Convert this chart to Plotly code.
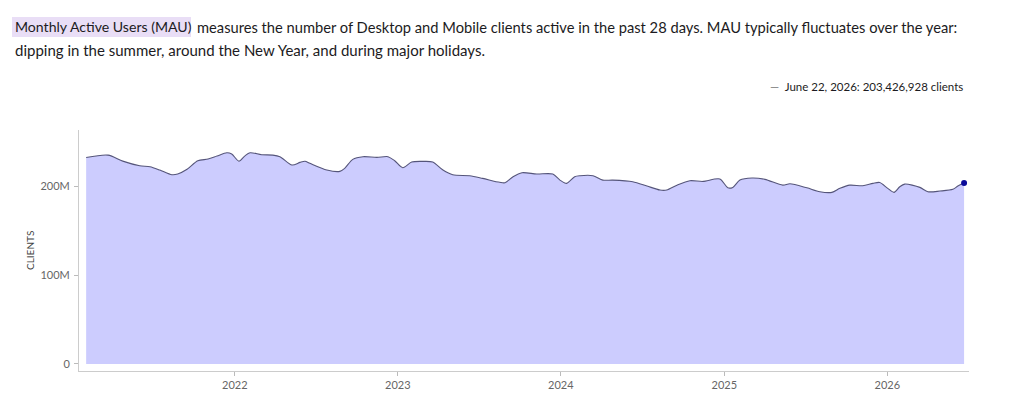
import plotly.graph_objects as go

# Monthly active users (millions of clients)
dates = [
    "2021-02-02", "2021-03-23", "2021-04-25", "2021-06-02", "2021-06-25", "2021-07-17",
    "2021-08-13", "2021-08-26", "2021-09-16", "2021-10-10", "2021-11-02", "2021-11-22",
    "2021-12-14", "2021-12-25", "2022-01-10", "2022-01-23", "2022-02-04", "2022-03-02",
    "2022-03-27", "2022-04-12", "2022-05-09", "2022-05-27", "2022-06-07", "2022-06-18",
    "2022-07-26", "2022-08-24", "2022-09-04", "2022-09-22", "2022-10-15", "2022-11-15",
    "2022-12-10", "2022-12-25", "2023-01-12", "2023-02-01", "2023-02-26", "2023-03-20",
    "2023-04-12", "2023-05-04", "2023-06-11", "2023-07-10", "2023-08-17", "2023-08-29",
    "2023-09-16", "2023-10-06", "2023-11-08", "2023-12-14", "2023-12-30", "2024-01-14",
    "2024-02-01", "2024-02-13", "2024-03-13", "2024-04-04", "2024-04-26", "2024-06-10",
    "2024-07-12", "2024-08-10", "2024-08-25", "2024-09-17", "2024-10-16", "2024-11-14",
    "2024-12-22", "2025-01-09", "2025-01-20", "2025-02-05", "2025-03-04", "2025-04-02",
    "2025-05-12", "2025-05-28", "2025-07-05", "2025-08-03", "2025-08-30", "2025-09-17",
    "2025-10-09", "2025-11-07", "2025-11-30", "2025-12-15", "2026-01-02", "2026-01-16",
    "2026-01-29", "2026-02-09", "2026-03-15", "2026-04-02", "2026-04-29", "2026-05-28",
    "2026-06-08", "2026-06-22",
]
mau_millions = [
    232.0, 234.8, 228.0, 222.8, 221.7, 218.0,
    212.7, 213.5, 218.8, 228.4, 230.3, 233.7,
    237.4, 236.0, 228.0, 233.7, 237.4, 235.2,
    234.8, 233.0, 223.6, 226.6, 227.8, 225.5,
    218.0, 216.5, 219.9, 230.0, 233.0, 232.2,
    233.0, 228.4, 220.6, 227.0, 227.7, 227.0,
    218.0, 212.7, 211.6, 208.6, 204.2, 203.7,
    210.5, 215.0, 213.5, 213.5, 206.7, 203.0,
    210.5, 211.6, 211.6, 206.7, 206.7, 204.9,
    200.0, 195.5, 195.5, 201.0, 206.0, 205.2,
    207.9, 198.0, 198.5, 206.7, 209.0, 207.5,
    201.0, 202.6, 198.0, 193.6, 192.9, 197.4,
    201.0, 200.3, 203.0, 204.0, 197.4, 192.9,
    199.2, 202.2, 198.5, 193.6, 194.4, 196.3,
    200.0, 203.426928,
]

year_ticks = ["2022-01-01", "2023-01-01", "2024-01-01", "2025-01-01", "2026-01-01"]
year_labels = ["2022", "2023", "2024", "2025", "2026"]
y_ticks = [0, 100, 200]
y_labels = ["0", "100M", "200M"]

W, H = 1022, 400
L, R, T, B = 79, 53, 130, 29
PW, PH = W - L - R, H - T - B

def px(x):
    return (x - L) / PW

def py(y):
    return (H - B - y) / PH

fig = go.Figure()
fig.add_trace(go.Scatter(
    x=dates, y=mau_millions, mode="lines",
    line=dict(color="#55557a", width=1.1, shape="spline", smoothing=0.8),
    fill="tozeroy", fillcolor="#ccccfe", hoverinfo="skip", showlegend=False,
))
fig.add_trace(go.Scatter(
    x=[dates[-1]], y=[mau_millions[-1]], mode="markers",
    marker=dict(color="#0a0a9a", size=6), hoverinfo="skip", showlegend=False,
))

text_font = "Lato, 'Noto Sans', sans-serif"
dark = "#1c1b22"

# highlight behind the term
fig.add_shape(type="rect", xref="paper", yref="paper",
              x0=px(12), x1=px(191), y0=py(37), y1=py(17),
              fillcolor="#e9def6", line=dict(width=0), layer="below")

fig.add_annotation(xref="paper", yref="paper", x=px(13), y=py(27),
                   xanchor="left", yanchor="middle", showarrow=False,
                   text="Monthly Active Users (MAU)",
                   font=dict(family=text_font, size=14.1, color=dark))
fig.add_annotation(xref="paper", yref="paper", x=px(195), y=py(27),
                   xanchor="left", yanchor="middle", showarrow=False,
                   text="measures the number of Desktop and Mobile clients active in the past 28 days. MAU typically fluctuates over the year:",
                   font=dict(family=text_font, size=14.7, color=dark))
fig.add_annotation(xref="paper", yref="paper", x=px(13), y=py(50),
                   xanchor="left", yanchor="middle", showarrow=False,
                   text="dipping in the summer, around the New Year, and during major holidays.",
                   font=dict(family=text_font, size=15, color=dark))
fig.add_annotation(xref="paper", yref="paper", x=px(965), y=py(86),
                   xanchor="right", yanchor="middle", showarrow=False,
                   text="<span style='color:#777'>—</span>  June 22, 2026: 203,426,928 clients",
                   font=dict(family=text_font, size=11.5, color=dark))
fig.add_annotation(xref="paper", yref="paper", x=px(30), y=py(251),
                   xanchor="center", yanchor="middle", showarrow=False, textangle=-90,
                   text="CLIENTS", font=dict(family=text_font, size=10, color="#444"))

fig.update_layout(
    width=W, height=H,
    margin=dict(l=L, r=R, t=T, b=B, pad=0),
    paper_bgcolor="white", plot_bgcolor="white",
    font=dict(family=text_font, size=11, color="#666"),
    xaxis=dict(
        type="date", range=["2021-01-17", "2026-07-03"], automargin=False,
        tickvals=year_ticks, ticktext=year_labels,
        showgrid=False, zeroline=False, showline=True, linecolor="#cccccc", linewidth=1,
        ticks="outside", ticklen=4, tickcolor="#bbbbbb",
        tickfont=dict(size=11, color="#666"),
    ),
    yaxis=dict(
        range=[-7.9, 263], automargin=False, tickvals=y_ticks, ticktext=y_labels,
        showgrid=False, zeroline=False, showline=True, linecolor="#cccccc", linewidth=1,
        ticks="outside", ticklen=4, tickcolor="#bbbbbb", ticklabelstandoff=2,
        tickfont=dict(size=11, color="#666"),
    ),
)

fig.write_html("out.html")
